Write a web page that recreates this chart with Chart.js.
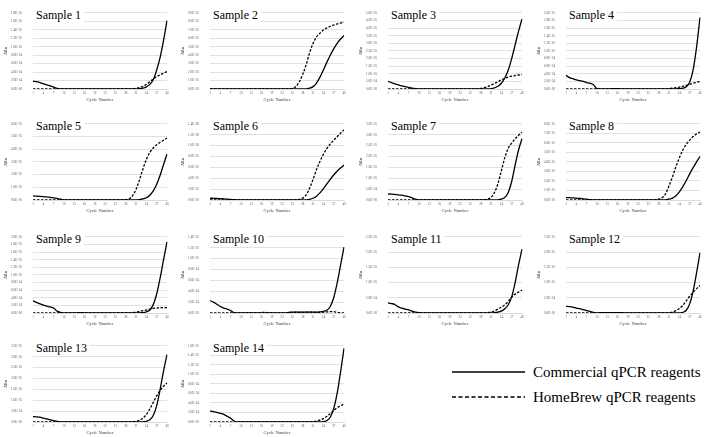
<!DOCTYPE html>
<html>
<head>
<meta charset="utf-8">
<script src="https://cdn.jsdelivr.net/npm/chart.js@4.4.0/dist/chart.umd.min.js"></script>
<style>
  body { margin: 0; background: #fff; overflow: hidden; }
  #wrap { position: relative; width: 708px; height: 437px; overflow: hidden; background: #fff; }
  .panel { position: absolute; }
  .tag {
    position: absolute; background: #fff; color: #000;
    font: 12px "Liberation Serif", serif; line-height: 14px;
    padding: 0 3px; white-space: nowrap;
  }
  .legtext {
    position: absolute; left: 533px; color: #000;
    font: 15px "Liberation Serif", serif; line-height: 18px; white-space: nowrap;
  }
</style>
</head>
<body>
<div id="wrap">
  <svg style="position:absolute;left:450px;top:360px" width="80" height="50">
    <line x1="2" y1="12" x2="75" y2="12" stroke="#000" stroke-width="1.5"/>
    <line x1="2" y1="37" x2="75" y2="37" stroke="#000" stroke-width="1.5" stroke-dasharray="4 2.5"/>
  </svg>
  <div class="legtext" style="top:363px">Commercial qPCR reagents</div>
  <div class="legtext" style="top:388px">HomeBrew qPCR reagents</div>
</div>
<script>
// cycle numbers (x categories)
const CYCLES = [1, 2, 3, 4, 5, 6, 7, 8, 9, 10,
                11, 12, 13, 14, 15, 16, 17, 18, 19, 20,
                21, 22, 23, 24, 25, 26, 27, 28, 29, 30,
                31, 32, 33, 34, 35, 36, 37, 38, 39, 40];

const SAMPLES = ['Sample 1', 'Sample 2', 'Sample 3', 'Sample 4', 'Sample 5', 'Sample 6', 'Sample 7',
                 'Sample 8', 'Sample 9', 'Sample 10', 'Sample 11', 'Sample 12', 'Sample 13', 'Sample 14'];

// y axis range per sample, in thousands of ΔRn
const Y_MAX  = [180, 900, 500, 200, 600, 1400, 350, 800, 200, 140, 250, 250, 350, 160];
const Y_STEP = [20, 100, 50, 20, 100, 200, 50, 100, 20, 20, 50, 50, 50, 20];

// ΔRn values, thousands
const S1_COMMERCIAL = [18.3, 17.2, 15.2, 12.5, 9.8, 7.2, 4.5, 1.5, 0.3, 0,
                       0, 0, 0, 0, 0, 0.2, 0.3, 0.2, 0, 0,
                       0, 0, 0, 0, 0, 0, 0, 0, 0, 0,
                       0.3, 0.8, 2, 5, 11, 22, 45, 75, 115, 162];
const S1_HOMEBREW   = [0, 0, 0, 0, 0, 0, 0, 0, 0, 0,
                       0, 0, 0, 0, 0, 0, 0, 0, 0, 0,
                       0, 0, 0, 0, 0, 0, 0, 0, 0, 0.5,
                       1.5, 3.5, 6.5, 11, 17, 24, 29, 33.5, 37.5, 41];

const S2_COMMERCIAL = [0, 0, 0, 0, 0, 0, 0, 0, 0, 0,
                       0, 0, 0, 0, 0, 0, 0, 0, 0, 0,
                       0, 0, 0, 0, 0, 0, 0, 0, 2, 9,
                       28, 70, 140, 225, 315, 400, 475, 540, 592, 632];
const S2_HOMEBREW   = [0, 0, 0, 0, 0, 0, 0, 0, 0, 0,
                       0, 0, 0, 0, 0, 0, 0, 0, 0, 0,
                       0, 0, 0, 2, 8, 30, 85, 175, 290, 430,
                       540, 615, 660, 697, 722, 742, 757, 770, 780, 790];

const S3_COMMERCIAL = [50, 42, 34, 27, 21, 15, 10, 5, 2, 0,
                       0, 0, 0, 0, 0, 0, 0, 0, 0, 0,
                       0, 0, 0, 0, 0, 0, 0, 0, 0, 1,
                       3, 8, 18, 38, 72, 125, 200, 290, 380, 460];
const S3_HOMEBREW   = [0, 0, 0, 0, 0, 0, 0, 0, 0, 0,
                       0, 0, 0, 0, 0, 0, 0, 0, 0, 0,
                       0, 0, 0, 0, 0, 0, 1, 4, 9, 16,
                       25, 36, 48, 60, 70, 78, 84, 88, 92, 95];

const S4_COMMERCIAL = [36, 30, 27, 24, 22, 20, 17, 15, 11, 1,
                       0, 0.5, 0.5, 0.5, 1, 1, 0.5, 0.5, 0, 0,
                       0, 0, 0, 0, 0, 0, 0, 0, 0, 0,
                       0, 0, 0.5, 1, 2, 6, 18, 50, 110, 188];
const S4_HOMEBREW   = [0, 0, 0, 0, 0, 0, 0, 0, 0, 0,
                       0, 0, 0, 0, 0, 0, 0, 0, 0, 0,
                       0, 0, 0, 0, 0, 0, 0, 0, 0, 0,
                       1, 2, 3.5, 5, 7, 9.5, 12, 15, 17.5, 20];

const S5_COMMERCIAL = [32, 30, 28, 26, 24, 21, 17, 12, 6, 1,
                       0, 0, 0, 0, 0, 0, 0, 0, 0, 0,
                       0, 0, 0, 0, 0, 0, 0, 0, 0, 0,
                       1, 3, 8, 18, 38, 72, 125, 195, 280, 362];
const S5_HOMEBREW   = [0, 0, 0, 0, 0, 0, 0, 0, 0, 0,
                       0, 0, 0, 0, 0, 0, 0, 0, 0, 0,
                       0, 0, 0, 0, 0, 0, 0, 2, 10, 35,
                       85, 160, 245, 320, 375, 410, 435, 455, 472, 488];

const S6_COMMERCIAL = [34, 31, 28, 24, 20, 15, 10, 5, 2, 0,
                       0, 0, 0, 0, 0, 0, 0, 0, 0, 0,
                       0, 0, 0, 0, 0, 0, 0, 0, 3, 12,
                       32, 70, 130, 210, 295, 380, 460, 530, 590, 645];
const S6_HOMEBREW   = [0, 0, 0, 0, 0, 0, 0, 0, 0, 0,
                       0, 0, 0, 0, 0, 0, 0, 0, 0, 0,
                       0, 0, 0, 0, 0, 3, 10, 35, 95, 220,
                       380, 560, 710, 840, 945, 1030, 1100, 1165, 1230, 1290];

const S7_COMMERCIAL = [28, 27, 25.5, 24, 22, 19, 16, 10, 4, 0.5,
                       0, 0, 0, 0, 0, 0, 0, 0, 0, 0,
                       0, 0, 0, 0, 0, 0, 0, 0, 0, 0,
                       0, 0, 1, 4, 12, 35, 85, 160, 230, 282];
const S7_HOMEBREW   = [0, 0, 0, 0, 0, 0, 0, 0, 0, 0,
                       0, 0, 0, 0, 0, 0, 0, 0, 0, 0,
                       0, 0, 0, 0, 0, 0, 0, 0, 1, 4,
                       12, 35, 75, 135, 195, 238, 262, 282, 298, 312];

const S8_COMMERCIAL = [26, 24, 22, 19, 16, 12, 8, 4, 1, 0,
                       0, 0, 0, 0, 0, 0, 0, 0, 0, 0,
                       0, 0, 0, 0, 0, 0, 0, 0, 0, 2,
                       8, 20, 45, 85, 140, 205, 275, 340, 400, 458];
const S8_HOMEBREW   = [0, 0, 0, 0, 0, 0, 0, 0, 0, 0,
                       0, 0, 0, 0, 0, 0, 0, 0, 0, 0,
                       0, 0, 0, 0, 0, 0, 2, 8, 25, 65,
                       150, 245, 350, 445, 525, 585, 630, 667, 695, 715];

const S9_COMMERCIAL = [32, 28, 24, 21, 18, 16, 13, 5, 1.5, 0,
                       0, 0, 0, 0.5, 1, 0.5, 0, 0, 0, 0,
                       0, 0, 0, 0, 0, 0, 0, 0, 0, 0,
                       0, 0.5, 1, 3, 8, 22, 50, 92, 140, 187];
const S9_HOMEBREW   = [0, 0, 0, 0, 0, 0, 0, 0, 0, 0,
                       0, 0, 0, 0, 0, 0, 0, 0, 0, 0,
                       0, 0, 0, 0, 0, 0, 0, 0, 0, 1,
                       2, 4, 6, 8, 10, 12, 13, 14, 14, 14.5];

const S10_COMMERCIAL = [23, 20, 16, 12, 9, 7, 4.5, 0.5, 0, 0,
                        0, 0, 0, 0, 0, 0, 0, 0, 0, 0,
                        0, 0, 0, 1, 1.5, 1.5, 1.5, 1.5, 1.5, 1.5,
                        1.5, 1.5, 2, 3, 5, 12, 28, 55, 88, 121];
const S10_HOMEBREW   = [0, 0, 0, 0, 0, 0, 0, 0, 0, 0,
                        0, 0.5, 0.5, 0, 0, 1, 1, 0.5, 0.5, 0,
                        0, 0, 0, 1, 1, 1.5, 1, 1, 1.5, 1.5,
                        1.5, 1, 1, 1.5, 2, 2.5, 2.5, 1, 0.5, 0.3];

const S11_COMMERCIAL = [33, 31, 28, 20, 16, 13, 10, 6, 3, 1,
                        0, 0, 0, 0, 0, 0, 0, 0, 0, 0,
                        0, 0, 0, 0, 0, 0, 0, 0, 0, 0,
                        0, 1, 3, 6, 14, 27, 53, 100, 158, 210];
const S11_HOMEBREW   = [0, 0, 0, 0, 0, 0, 0, 0, 0, 0,
                        0, 0, 0, 0, 0, 0, 0, 0, 0, 0,
                        0, 0, 0, 0, 0, 0, 0, 0, 0, 1,
                        3, 7, 13, 19, 27, 38, 52, 62, 69, 75];

const S12_COMMERCIAL = [22, 21, 19, 16, 14, 11, 8, 5, 2, 0,
                        1, 1.5, 1.5, 1, 1, 1, 1, 0.5, 0.5, 0,
                        0, 0, 0, 0, 0, 0, 0, 0, 0, 0,
                        0, 0, 0, 0.5, 2, 9, 30, 72, 132, 198];
const S12_HOMEBREW   = [0, 0, 0, 0, 0, 0, 0, 0, 0, 0,
                        0, 0, 0, 0, 0, 0, 0, 0, 0, 0,
                        0, 0, 0, 0, 0, 0, 0, 0, 0, 0,
                        1, 3, 8, 15, 25, 40, 55, 68, 80, 90];

const S13_COMMERCIAL = [25, 24, 22, 18, 14, 10, 6, 3, 1, 0,
                        0, 0, 0, 0, 0, 0, 0, 0, 0, 0,
                        0, 0, 0, 0, 0, 0, 0, 0, 0, 0,
                        0, 0, 1, 3, 10, 30, 75, 150, 235, 310];
const S13_HOMEBREW   = [0, 0, 0, 0, 0, 0, 0, 0, 0, 0,
                        0, 0, 0, 0, 0, 0, 0, 0, 0, 0,
                        0, 0, 0, 0, 0, 0, 0, 0, 0, 1,
                        3, 8, 18, 35, 60, 90, 120, 145, 165, 180];

const S14_COMMERCIAL = [23, 22, 20, 18, 16, 12, 8, 2, 0, 0,
                        0, 0, 0, 0, 0, 0, 0, 0, 0, 0,
                        0, 0, 0, 0, 0, 0, 0, 0, 0, 0,
                        0, 0, 0, 1, 3, 10, 28, 60, 105, 155];
const S14_HOMEBREW   = [0, 0, 0, 0, 0, 0, 0, 0, 0, 0,
                        0, 0, 0, 0, 0, 0, 0, 0, 0, 0,
                        0, 0, 0, 0, 0, 0, 0, 0, 0, 0,
                        1, 2, 4, 7, 12, 18, 24, 30, 34, 38];

const COMMERCIAL = [S1_COMMERCIAL, S2_COMMERCIAL, S3_COMMERCIAL, S4_COMMERCIAL, S5_COMMERCIAL,
                    S6_COMMERCIAL, S7_COMMERCIAL, S8_COMMERCIAL, S9_COMMERCIAL, S10_COMMERCIAL,
                    S11_COMMERCIAL, S12_COMMERCIAL, S13_COMMERCIAL, S14_COMMERCIAL];
const HOMEBREW = [S1_HOMEBREW, S2_HOMEBREW, S3_HOMEBREW, S4_HOMEBREW, S5_HOMEBREW,
                  S6_HOMEBREW, S7_HOMEBREW, S8_HOMEBREW, S9_HOMEBREW, S10_HOMEBREW,
                  S11_HOMEBREW, S12_HOMEBREW, S13_HOMEBREW, S14_HOMEBREW];

// panel grid placement
const COL_X = [0, 177, 355, 533];
const ROW_Y = [0, 111, 224, 333];
const PANEL_W = 175, PANEL_H = 107;

const SERIF = '"Liberation Serif", "Times New Roman", serif';
const TICK_FONT = { family: SERIF, size: 3.2 };
const TITLE_FONT = { family: SERIF, size: 4.6 };

// Excel style 0.0E+00
function sci(v) {
  const s = (v * 1000).toExponential(1).toUpperCase();
  const [m, e] = s.split('E');
  const sign = e[0] === '-' ? '-' : '+';
  const digits = e.replace(/[+-]/, '').padStart(2, '0');
  return m + 'E' + sign + digits;
}

const wrap = document.getElementById('wrap');

SAMPLES.forEach((name, i) => {
  const left = COL_X[i % 4], top = ROW_Y[Math.floor(i / 4)];

  const panel = document.createElement('div');
  panel.className = 'panel';
  panel.style.left = left + 'px';
  panel.style.top = top + 'px';
  const canvas = document.createElement('canvas');
  canvas.width = PANEL_W;
  canvas.height = PANEL_H;
  panel.appendChild(canvas);

  const tag = document.createElement('div');
  tag.className = 'tag';
  tag.style.left = '33px';
  tag.style.top = '8px';
  tag.textContent = name;
  panel.appendChild(tag);
  wrap.appendChild(panel);

  new Chart(canvas, {
    type: 'line',
    data: {
      labels: CYCLES,
      datasets: [
        {
          label: 'Commercial qPCR reagents',
          data: COMMERCIAL[i],
          borderColor: '#000',
          borderWidth: 1.3,
          pointRadius: 0,
          cubicInterpolationMode: 'monotone',
          fill: false,
        },
        {
          label: 'HomeBrew qPCR reagents',
          data: HOMEBREW[i],
          borderColor: '#000',
          borderWidth: 1.3,
          borderDash: [2.5, 1.5],
          pointRadius: 0,
          cubicInterpolationMode: 'monotone',
          fill: false,
        },
      ],
    },
    options: {
      responsive: false,
      animation: false,
      devicePixelRatio: 1,
      layout: { padding: { left: 0, right: 8, top: 4, bottom: 0 } },
      plugins: { legend: { display: false }, tooltip: { enabled: false } },
      scales: {
        x: {
          grid: { display: false, drawTicks: false },
          border: { display: true, color: '#d9d9d9', width: 1 },
          ticks: {
            autoSkip: false, maxRotation: 0, padding: 2,
            color: '#595959', font: TICK_FONT,
            callback: (v, idx) => (idx % 3 === 0 ? CYCLES[idx] : ''),
          },
          title: {
            display: true, text: 'Cycle Number', color: '#404040',
            font: TITLE_FONT, padding: { top: 0, bottom: 4 },
          },
          afterFit: s => { s.height = 18; },
        },
        y: {
          min: 0,
          max: Y_MAX[i],
          grid: { color: '#d9d9d9', lineWidth: 0.8, drawTicks: false },
          border: { display: false },
          ticks: {
            stepSize: Y_STEP[i], padding: 11,
            color: '#595959', font: TICK_FONT,
            callback: v => sci(v),
          },
          title: {
            display: true, text: 'ΔRn', color: '#404040',
            font: TITLE_FONT, padding: { top: 3, bottom: 0 },
          },
          afterFit: s => { s.width = 33; },
        },
      },
    },
  });
});
</script>
</body>
</html>
